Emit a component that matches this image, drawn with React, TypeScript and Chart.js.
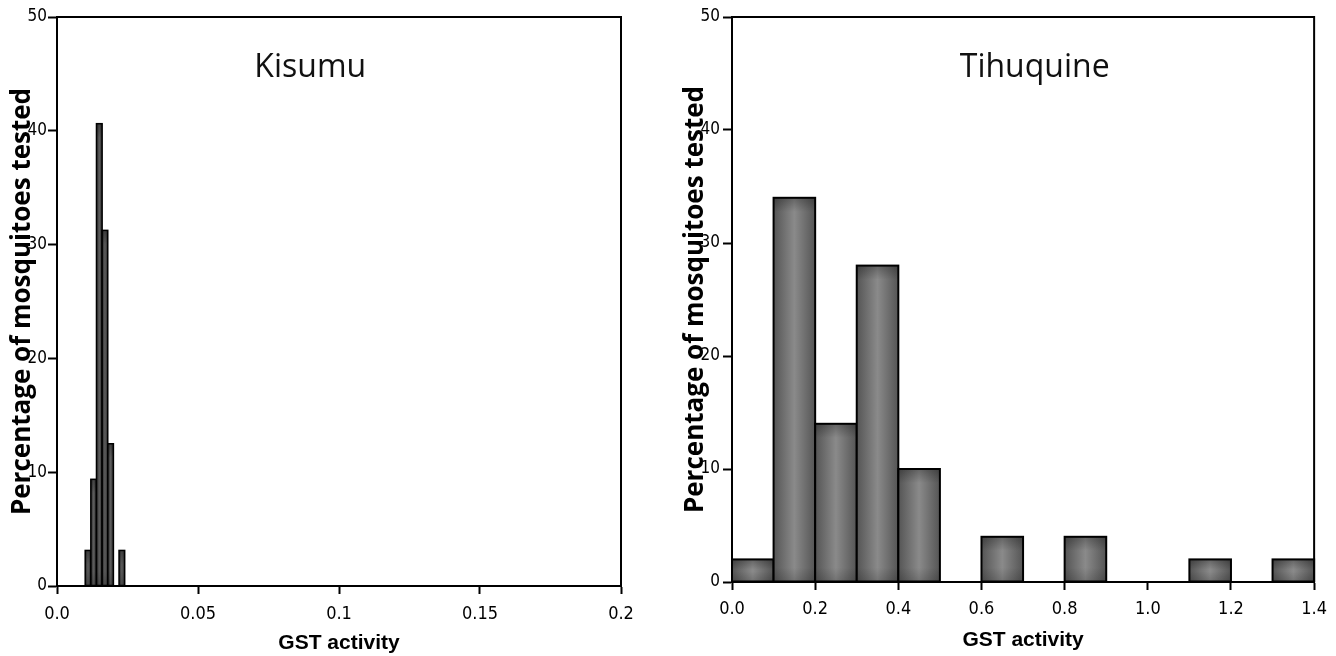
import React, { useEffect, useRef } from "react";
import { Chart, registerables } from "chart.js";

Chart.register(...registerables);

// ---- Data ----
const kisumuBinCenters = [0.011, 0.013, 0.015, 0.017, 0.019, 0.021, 0.023];
const kisumuPercent = [3.125, 9.375, 40.625, 31.25, 12.5, 0, 3.125];
const kisumuXTickValues = [0, 0.05, 0.1, 0.15, 0.2];
const kisumuXTickLabels = ["0.0", "0.05", "0.1", "0.15", "0.2"];

const tihuquineBinCenters = [0.05, 0.15, 0.25, 0.35, 0.45, 0.55, 0.65, 0.75, 0.85, 0.95, 1.05, 1.15, 1.25, 1.35];
const tihuquinePercent = [2, 34, 14, 28, 10, 0, 4, 0, 4, 0, 0, 2, 0, 2];
const tihuquineXTickValues = [0, 0.2, 0.4, 0.6, 0.8, 1.0, 1.2, 1.4];
const tihuquineXTickLabels = ["0.0", "0.2", "0.4", "0.6", "0.8", "1.0", "1.2", "1.4"];

const yTickValues = [0, 10, 20, 30, 40, 50];
const yTickLabels = ["0", "10", "20", "30", "40", "50"];

const panelTitles = ["Kisumu", "Tihuquine"];
const xAxisTitle = "GST activity";
const yAxisTitle = "Percentage of mosquitoes tested";

const NARROW = "'Liberation Sans Narrow', 'DejaVu Sans Condensed', 'Liberation Sans', sans-serif";

type Spec = {
  title: string;
  centers: number[];
  values: number[];
  xMax: number;
  xTickValues: number[];
  xTickLabels: string[];
  offsetX: number;
  yWidth: number;
  padRight: number;
  xHeight: number;
  yTitlePad: number;
  xTitlePad: number;
  yTickPad: number;
  xTickPad: number;
  border: number;
  edge: string;
  center: string;
  titleFrac: number;
};

// Shading + outline for each histogram bar, using the bar element geometry from Chart.js
const shadePlugin = {
  id: "shade",
  afterDatasetsDraw(chart: any, _args: any, opts: any) {
    const ctx = chart.ctx;
    const meta = chart.getDatasetMeta(0);
    const lw = opts.border;
    meta.data.forEach((el: any) => {
      const p = el.getProps(["x", "y", "base", "width"], true);
      const left = p.x - p.width / 2;
      const right = p.x + p.width / 2;
      const top = Math.min(p.y, p.base);
      const bottom = Math.max(p.y, p.base);
      const w = right - left;
      const h = bottom - top;
      if (w <= 0 || h < 0.5) return;
      ctx.save();
      const g = ctx.createLinearGradient(left, 0, right, 0);
      g.addColorStop(0, opts.edge);
      g.addColorStop(0.5, opts.center);
      g.addColorStop(1, opts.edge);
      ctx.fillStyle = g;
      ctx.fillRect(left, top, w, h);
      const v = ctx.createLinearGradient(0, top, 0, bottom);
      const f = Math.min(14 / h, 0.45);
      v.addColorStop(0, "rgba(0,0,0,0.28)");
      v.addColorStop(f, "rgba(0,0,0,0)");
      v.addColorStop(1 - f, "rgba(0,0,0,0)");
      v.addColorStop(1, "rgba(0,0,0,0.18)");
      ctx.fillStyle = v;
      ctx.fillRect(left, top, w, h);
      ctx.strokeStyle = "#000";
      ctx.lineWidth = lw;
      ctx.lineJoin = "miter";
      ctx.strokeRect(left, top, w, h);
      ctx.restore();
    });
  },
};

const framePlugin = {
  id: "frame",
  afterDraw(chart: any, _args: any, opts: any) {
    const { ctx, chartArea } = chart;
    ctx.save();
    ctx.strokeStyle = "#000";
    ctx.lineWidth = 2;
    ctx.beginPath();
    ctx.moveTo(chartArea.left, chartArea.top);
    ctx.lineTo(chartArea.right, chartArea.top);
    ctx.lineTo(chartArea.right, chartArea.bottom);
    ctx.stroke();
    ctx.fillStyle = "#111";
    ctx.font = "32px 'Open Sans', 'Noto Sans', sans-serif";
    ctx.textAlign = "center";
    ctx.textBaseline = "alphabetic";
    const x = chartArea.left + opts.frac * (chartArea.right - chartArea.left);
    ctx.fillText(opts.text, x, 77);
    ctx.restore();
  },
};

function buildConfig(spec: Spec): any {
  return {
    type: "bar",
    data: {
      datasets: [
        {
          data: spec.centers.map((c, i) => ({ x: c, y: spec.values[i] })),
          backgroundColor: spec.center,
          borderColor: "#000",
          borderWidth: 0,
          borderSkipped: false,
          inflateAmount: 0,
          barPercentage: 1,
          categoryPercentage: 1,
        },
      ],
    },
    options: {
      animation: false,
      responsive: false,
      devicePixelRatio: 1,
      layout: { padding: { left: 0, top: 17, right: spec.padRight, bottom: 0 } },
      plugins: {
        legend: { display: false },
        tooltip: { enabled: false },
        shade: { border: spec.border, edge: spec.edge, center: spec.center },
        frame: { text: spec.title, frac: spec.titleFrac },
      },
      scales: {
        x: {
          type: "linear",
          offset: false,
          min: 0,
          max: spec.xMax,
          afterFit: (s: any) => {
            s.height = spec.xHeight;
          },
          afterBuildTicks: (s: any) => {
            s.ticks = spec.xTickValues.map((v) => ({ value: v }));
          },
          ticks: {
            autoSkip: false,
            maxRotation: 0,
            minRotation: 0,
            padding: spec.xTickPad,
            color: "#000",
            font: { family: NARROW, size: 18 },
            callback: (_v: any, i: number) => spec.xTickLabels[i] ?? "",
          },
          grid: {
            display: true,
            offset: false,
            drawOnChartArea: false,
            drawTicks: true,
            tickLength: 8,
            tickWidth: 2,
            tickColor: "#000",
          },
          border: { display: true, color: "#000", width: 2 },
          title: {
            display: true,
            text: xAxisTitle,
            color: "#000",
            font: { family: "'Liberation Sans', Arial, sans-serif", size: 21, weight: "bold" },
            padding: { top: 0, bottom: spec.xTitlePad },
          },
        },
        y: {
          type: "linear",
          min: 0,
          max: 50,
          afterFit: (s: any) => {
            s.width = spec.yWidth;
          },
          afterBuildTicks: (s: any) => {
            s.ticks = yTickValues.map((v) => ({ value: v }));
          },
          ticks: {
            padding: spec.yTickPad,
            color: "#000",
            font: { family: NARROW, size: 17 },
            callback: (_v: any, i: number) => yTickLabels[i] ?? "",
          },
          grid: {
            display: true,
            drawOnChartArea: false,
            drawTicks: true,
            tickLength: 9,
            tickWidth: 2,
            tickColor: "#000",
          },
          border: { display: true, color: "#000", width: 2 },
          title: {
            display: true,
            text: yAxisTitle,
            color: "#000",
            font: { family: "'Open Sans', 'Noto Sans', sans-serif", size: 26, weight: "bold" },
            padding: { top: spec.yTitlePad, bottom: 0 },
          },
        },
      },
    },
    plugins: [shadePlugin, framePlugin],
  };
}

const specs: Spec[] = [
  {
    title: panelTitles[0],
    centers: kisumuBinCenters,
    values: kisumuPercent,
    xMax: 0.2,
    xTickValues: kisumuXTickValues,
    xTickLabels: kisumuXTickLabels,
    offsetX: 0,
    yWidth: 57,
    padRight: 47,
    xHeight: 70,
    yTitlePad: 7,
    xTitlePad: 0,
    yTickPad: 1,
    xTickPad: 10,
    border: 1.5,
    edge: "#2a2a2a",
    center: "#5e5e5e",
    titleFrac: 0.449,
  },
  {
    title: panelTitles[1],
    centers: tihuquineBinCenters,
    values: tihuquinePercent,
    xMax: 1.4,
    xTickValues: tihuquineXTickValues,
    xTickLabels: tihuquineXTickLabels,
    offsetX: 668,
    yWidth: 64,
    padRight: 21,
    xHeight: 74,
    yTitlePad: 12,
    xTitlePad: 3,
    yTickPad: 3,
    xTickPad: 9,
    border: 2,
    edge: "#555555",
    center: "#8a8a8a",
    titleFrac: 0.52,
  },
];

function Panel({ spec }: { spec: Spec }) {
  const ref = useRef<HTMLCanvasElement>(null);
  useEffect(() => {
    const chart = new Chart(ref.current as HTMLCanvasElement, buildConfig(spec));
    return () => chart.destroy();
  }, [spec]);
  return (
    <canvas
      ref={ref}
      width={668}
      height={656}
      style={{ position: "absolute", left: spec.offsetX, top: 0, width: 668, height: 656 }}
    />
  );
}

export default function App() {
  return (
    <div
      style={{
        position: "fixed",
        left: 0,
        top: 0,
        width: 1336,
        height: 656,
        background: "#fff",
        overflow: "hidden",
      }}
    >
      {specs.map((s) => (
        <Panel key={s.title} spec={s} />
      ))}
    </div>
  );
}
